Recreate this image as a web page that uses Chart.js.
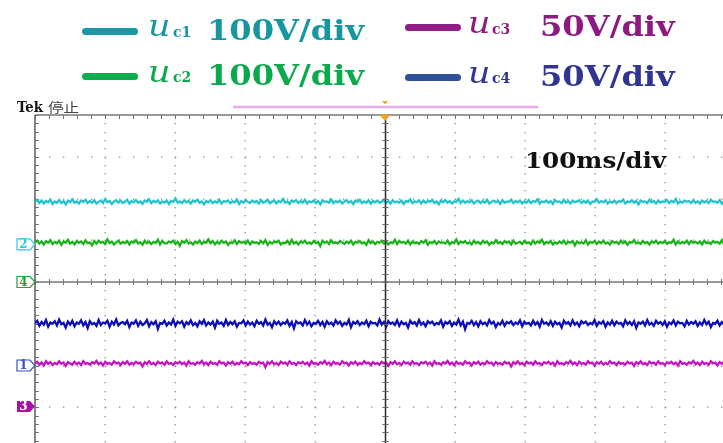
<!DOCTYPE html>
<html>
<head>
<meta charset="utf-8">
<script src="https://cdn.jsdelivr.net/npm/chart.js@4.4.1/dist/chart.umd.min.js"></script>
<style>
    body {
        margin: 0;
        width: 723px;
        height: 443px;
        overflow: hidden;
        background: #fff;
        position: relative;
    }
    #wrap {
        position: absolute;
        left: 0;
        top: 0;
        width: 745px;
        height: 460px;
    }
    .t {
        position: absolute;
        white-space: nowrap;
        line-height: 1;
        transform-origin: 0 0;
        font-family: "DejaVu Serif", "Liberation Serif", serif;
    }
    .swatch {
        position: absolute;
        height: 7px;
        width: 56px;
        border-radius: 4px;
    }
</style>
</head>
<body>
<div id="wrap"><canvas id="scope"></canvas></div>
<div id="labels"></div>
<script>
// legend text
var channelNames = ["c1", "c2", "c3", "c4"];
var channelScales = ["100V/div", "100V/div", "50V/div", "50V/div"];
var timeBase = "100ms/div";

// screen = 10 div x 100 ms, values in 1/100 division (centre line = 0)
var screenMs = 1000;

var uc1 = [192,196,189,195,188,194,191,197,187,193,190,196,189,194,186,195,191,198,190,193,
188,195,192,197,189,194,190,196,188,192,195,189,199,191,194,187,193,196,190,195,
189,192,197,188,194,191,196,190,193,187,195,192,198,189,194,191,196,188,193,190,
195,187,194,192,200,190,193,189,196,191,194,188,195,192,197,190,193,186,194,191,
196,189,193,190,197,188,194,192,195,189,193,191,198,187,194,190,196,192,189,195,
191,194,188,196,190,193,197,189,192,195,188,194,191,199,190,193,187,195,192,196,
189,194,190,197,188,193,191,195,189,194,186,196,192,193,190,198,189,194,191,195,
188,193,196,190,194,187,195,192,197,189,193,190,196,188,194,191,195,190,192,197,
189,194,188,196,191,193,190,195,187,194,192,198,189,193,191,196,188,195,190,194,
192,197,189,193,186,195,191,196,190,194,188,193,192,199,189,195,190,194,191,196,
188,193,195,189,194,190,197,188,192,195,191,194,187,196,190,193,192,197,189,194,
191,195,188,193,190,196,189,194,192,198,188,193,191,195,190,194,187,196,192,193,
189,197,190,194,188,195,191,193,196,189,194,190,195,187,193,192,198,190,194,191,
196,188,193,190,195,189,194,192,197,188,193,191,196,190,194,186,195,192,193,189,
197,191,194,188,195,190,193,192,196,189,194,191,199,188,193,190,195,192,194,189,
196,190,193,188,195,191,194,189,197,192,193,190,196,188,194,191,195,189,193,192];
var uc2 = [95,99,92,97,90,98,94,100,91,96,93,99,89,97,94,101,92,96,90,98,
94,97,91,100,93,95,88,98,92,99,94,96,91,102,93,97,90,95,99,92,
96,93,98,90,97,94,100,92,95,89,99,93,97,91,96,94,101,90,98,93,
92,97,95,99,91,96,87,98,94,100,92,95,90,97,93,99,91,96,94,102,
93,98,90,96,92,99,94,97,89,95,93,100,91,98,94,96,92,99,90,97,
94,95,91,98,93,100,89,96,92,97,95,99,90,94,93,98,91,101,92,96,
90,97,94,99,92,95,91,98,93,96,86,99,94,97,91,100,93,95,92,98,
95,91,97,93,99,90,96,94,98,92,95,89,100,93,97,91,96,94,99,92,
97,90,95,93,101,91,98,94,96,92,99,90,97,93,95,91,98,94,100,89,
96,93,98,91,97,94,95,92,99,90,96,93,102,91,97,94,98,92,95,90,
99,93,96,91,98,94,97,89,95,92,100,93,96,91,98,94,97,90,99,92,
94,96,91,98,93,95,90,99,92,97,94,101,91,96,93,98,90,95,92,97,
93,99,91,96,94,98,88,97,93,95,92,100,90,96,94,98,91,97,93,99,
92,95,90,98,94,96,91,99,93,97,89,96,94,100,92,95,91,98,93,96,
90,97,94,99,92,96,93,98,91,95,94,101,90,97,92,96,93,99,91,98,
94,96,92,97,90,99,93,95,91,98,94,96,92,100,90,97,93,95,94,98];
var uc3 = [-195,-191,-198,-193,-200,-190,-196,-192,-199,-194,-197,-190,-196,-193,-201,-192,-195,-198,-191,-197,
-193,-199,-190,-196,-194,-198,-192,-195,-189,-197,-193,-200,-191,-196,-194,-198,-190,-195,-193,-199,
-192,-196,-190,-198,-194,-197,-191,-195,-193,-202,-192,-196,-190,-197,-194,-199,-191,-195,-193,-198,
-190,-196,-194,-199,-192,-195,-191,-197,-193,-200,-190,-196,-194,-198,-192,-195,-189,-197,-193,-199,
-191,-196,-194,-198,-190,-195,-193,-200,-192,-196,-191,-198,-194,-197,-190,-195,-193,-199,-192,-196,
-194,-198,-191,-195,-193,-204,-192,-196,-190,-197,-194,-199,-191,-195,-193,-198,-190,-196,-194,-199,
-192,-195,-191,-197,-193,-200,-190,-196,-194,-198,-192,-195,-189,-197,-193,-199,-191,-196,-194,-198,
-190,-195,-193,-200,-192,-196,-191,-198,-194,-197,-190,-195,-193,-199,-192,-196,-194,-198,-191,-195,
-193,-201,-192,-196,-190,-197,-194,-199,-191,-195,-193,-198,-190,-196,-194,-199,-192,-195,-191,-197,
-193,-200,-190,-196,-194,-198,-192,-195,-189,-197,-193,-199,-191,-196,-194,-198,-190,-195,-193,-200,
-192,-196,-191,-198,-194,-197,-190,-195,-193,-199,-192,-196,-194,-198,-191,-195,-193,-202,-192,-196,
-190,-197,-194,-199,-191,-195,-193,-198,-190,-196,-194,-199,-192,-195,-191,-197,-193,-200,-190,-196,
-194,-198,-192,-195,-189,-197,-193,-199,-191,-196,-194,-198,-190,-195,-193,-200,-192,-196,-191,-198,
-194,-197,-190,-195,-193,-199,-192,-196,-194,-198,-191,-195,-193,-201,-192,-196,-190,-197,-194,-199,
-191,-195,-193,-198,-190,-196,-194,-199,-192,-195,-191,-197,-193,-200,-190,-196,-194,-198,-192,-195,
-189,-197,-193,-199,-191,-196,-194,-198,-190,-195,-193,-200,-192,-196,-191,-198,-194,-197,-190,-195];
var uc4 = [-99,-93,-105,-96,-102,-91,-107,-97,-100,-94,-104,-90,-101,-98,-109,-95,-102,-93,-106,-97,
-100,-92,-104,-96,-110,-94,-101,-98,-105,-91,-103,-97,-99,-93,-107,-95,-102,-90,-104,-98,
-96,-101,-93,-108,-97,-100,-92,-105,-95,-103,-99,-91,-106,-96,-101,-94,-112,-98,-100,-93,
-104,-97,-102,-90,-105,-95,-99,-94,-107,-96,-101,-92,-103,-98,-106,-94,-100,-91,-104,-97,
-102,-95,-109,-93,-100,-97,-105,-91,-103,-96,-101,-94,-107,-98,-99,-92,-104,-95,-102,-97,
-106,-93,-100,-96,-104,-90,-102,-98,-108,-94,-101,-95,-103,-97,-100,-92,-105,-96,-111,-94,
-99,-97,-104,-91,-102,-95,-106,-98,-100,-93,-103,-96,-107,-94,-101,-97,-104,-92,-100,-95,
-105,-98,-102,-91,-108,-96,-100,-94,-103,-97,-101,-93,-106,-95,-99,-98,-104,-90,-102,-96,
-107,-94,-100,-97,-103,-92,-105,-95,-101,-98,-109,-93,-100,-96,-104,-91,-102,-97,-106,-94,
-99,-95,-103,-98,-101,-92,-107,-96,-100,-94,-105,-97,-102,-90,-104,-95,-113,-98,-100,-93,
-103,-96,-106,-94,-101,-97,-104,-91,-100,-95,-108,-98,-102,-93,-105,-96,-99,-94,-103,-97,
-101,-92,-106,-95,-100,-98,-104,-93,-102,-96,-107,-91,-100,-97,-103,-94,-105,-95,-101,-98,
-109,-93,-100,-96,-104,-92,-102,-97,-106,-94,-99,-95,-103,-98,-101,-91,-105,-96,-100,-94,
-107,-97,-102,-93,-104,-95,-100,-98,-106,-92,-101,-96,-103,-94,-110,-97,-100,-95,-104,-91,
-102,-98,-105,-93,-100,-96,-103,-94,-107,-97,-101,-92,-104,-95,-99,-98,-106,-93,-102,-96,
-100,-94,-105,-97,-103,-91,-101,-95,-108,-98,-100,-93,-104,-96,-102,-94,-106,-97,-99,-95];

// scope channel ground markers
var markerLabels = ["2", "4", "1", "3"];
var markerLevels = [90, 0, -200, -298];

// record view bar (ms)
var viewStart = 283;
var viewEnd = 719;

var traceColors = ["#22c4cc", "#1ab41a", "#c414c4", "#0c0cb8"];
var legendColors = ["#16969f", "#0aa94b", "#8c1a80", "#2f3590"];
var swatchColors = ["#1f97a3", "#0aae4d", "#911c86", "#2f5096"];

function toPoints(vals) {
    return vals.map(function (v, i) {
        return { x: (i * screenMs) / (vals.length - 1), y: v };
    });
}

function drawMarker(ctx, left, py, label, stroke, filled) {
    ctx.beginPath();
    ctx.moveTo(left, py - 5.5);
    ctx.lineTo(left + 13, py - 5.5);
    ctx.lineTo(left + 18, py);
    ctx.lineTo(left + 13, py + 5.5);
    ctx.lineTo(left, py + 5.5);
    ctx.closePath();
    ctx.lineWidth = 1.2;
    if (filled) {
        ctx.fillStyle = stroke;
        ctx.fill();
    } else {
        ctx.fillStyle = "#fff";
        ctx.fill();
        ctx.strokeStyle = stroke;
        ctx.stroke();
    }
    ctx.fillStyle = filled ? "#fff" : stroke;
    ctx.font = "bold 12px 'DejaVu Serif', serif";
    ctx.textAlign = "center";
    ctx.textBaseline = "middle";
    ctx.fillText(label, left + 6.5, py + 0.5);
}

var scopeGrid = {
    id: "scopeGrid",
    beforeDatasetsDraw: function (chart) {
        var ctx = chart.ctx;
        var a = chart.chartArea;
        var x = chart.scales.x;
        var y = chart.scales.y;
        var t, v, px, py;
        ctx.save();

        // dotted division lines
        ctx.fillStyle = "#8a8a8a";
        for (t = x.min + 100; t < x.max; t += 100) {
            if (t === 500) continue;
            px = Math.round(x.getPixelForValue(t)) - 0.5;
            for (v = y.min; v <= y.max; v += 20) {
                ctx.fillRect(px, Math.round(y.getPixelForValue(v)), 1.3, 1.3);
            }
        }
        for (v = y.min + 100; v < y.max; v += 100) {
            if (v === 0) continue;
            py = Math.round(y.getPixelForValue(v)) - 0.5;
            for (t = x.min; t <= x.max; t += 20) {
                ctx.fillRect(Math.round(x.getPixelForValue(t)), py, 1.3, 1.3);
            }
        }

        // top border and horizontal centre line
        ctx.strokeStyle = "#7a7a7a";
        ctx.lineWidth = 1.4;
        ctx.beginPath();
        ctx.moveTo(a.left, a.top);
        ctx.lineTo(a.right, a.top);
        py = y.getPixelForValue(0);
        ctx.moveTo(a.left, py);
        ctx.lineTo(a.right, py);
        ctx.stroke();

        ctx.lineWidth = 1;
        ctx.strokeStyle = "#777";
        ctx.beginPath();
        for (t = x.min; t <= x.max; t += 20) {
            px = Math.round(x.getPixelForValue(t)) + 0.5;
            ctx.moveTo(px, a.top);
            ctx.lineTo(px, a.top + 4);
            ctx.moveTo(px, py - 3);
            ctx.lineTo(px, py + 3);
        }
        for (v = y.min; v <= y.max; v += 20) {
            var vy = Math.round(y.getPixelForValue(v)) + 0.5;
            ctx.moveTo(a.left, vy);
            ctx.lineTo(a.left + 4, vy);
        }
        ctx.stroke();

        // left border
        ctx.strokeStyle = "#666";
        ctx.lineWidth = 1.6;
        ctx.beginPath();
        ctx.moveTo(a.left, a.top);
        ctx.lineTo(a.left, a.bottom);
        ctx.stroke();
        ctx.restore();
    },
    afterDatasetsDraw: function (chart) {
        var ctx = chart.ctx;
        var a = chart.chartArea;
        var x = chart.scales.x;
        var y = chart.scales.y;
        var cx = Math.round(x.getPixelForValue(500)) + 0.5;
        ctx.save();
        ctx.strokeStyle = "#2a2a2a";
        ctx.lineWidth = 1.5;
        ctx.beginPath();
        ctx.moveTo(cx, a.top);
        ctx.lineTo(cx, a.bottom);
        ctx.stroke();
        ctx.lineWidth = 1;
        ctx.strokeStyle = "#666";
        ctx.beginPath();
        for (var v = y.min; v <= y.max; v += 20) {
            var vy = Math.round(y.getPixelForValue(v)) + 0.5;
            ctx.moveTo(cx - 3, vy);
            ctx.lineTo(cx + 3, vy);
        }
        ctx.stroke();
        ctx.restore();
    },
    afterDraw: function (chart) {
        var ctx = chart.ctx;
        var a = chart.chartArea;
        var x = chart.scales.x;
        var y = chart.scales.y;
        var cx = x.getPixelForValue(500);
        ctx.save();

        // record view bar
        ctx.strokeStyle = "#e6aae6";
        ctx.lineWidth = 2.5;
        ctx.beginPath();
        ctx.moveTo(x.getPixelForValue(viewStart), a.top - 8);
        ctx.lineTo(x.getPixelForValue(viewEnd), a.top - 8);
        ctx.stroke();

        // trigger position
        ctx.fillStyle = "#f7a11a";
        ctx.beginPath();
        ctx.moveTo(cx - 3, a.top - 14);
        ctx.lineTo(cx + 3, a.top - 14);
        ctx.lineTo(cx, a.top - 10.5);
        ctx.closePath();
        ctx.fill();
        ctx.beginPath();
        ctx.moveTo(cx - 5.5, a.top);
        ctx.lineTo(cx + 5.5, a.top);
        ctx.lineTo(cx, a.top + 6);
        ctx.closePath();
        ctx.fill();

        // ground markers
        var markerColors = ["#33c6e4", "#22a33a", "#3552c4", "#a512a5"];
        for (var i = 0; i < markerLabels.length; i++) {
            drawMarker(ctx, a.left - 18, y.getPixelForValue(markerLevels[i]),
                markerLabels[i], markerColors[i], i === 3);
        }
        ctx.restore();
    }
};

var traces = [uc1, uc2, uc3, uc4];
var datasets = [];
for (var i = 0; i < traces.length; i++) {
    datasets.push({
        label: "u" + channelNames[i],
        data: toPoints(traces[i]),
        borderColor: traceColors[i],
        borderWidth: 2.3,
        pointRadius: 0,
        tension: 0,
    });
}

new Chart(document.getElementById("scope"), {
    type: "line",
    data: { datasets: datasets },
    options: {
        responsive: true,
        maintainAspectRatio: false,
        animation: false,
        layout: {
            padding: { left: 35, top: 115, right: 10, bottom: 11 },
        },
        plugins: {
            legend: { display: false },
            tooltip: { enabled: false },
        },
        scales: {
            x: { type: "linear", min: 0, max: screenMs, display: false },
            y: { min: -400, max: 400, display: false },
        },
    },
    plugins: [scopeGrid],
});

// legend (html text), positions per item: swatch, u, subscript, scale text
var legendSpots = [
    { sw: [82, 27.5], u: [148, 12], sub: [173, 25.2], val: [207, 17] },
    { sw: [82, 72.5], u: [148, 57.5], sub: [173, 70.2], val: [207, 62] },
    { sw: [405, 23.5], u: [468, 8.5], sub: [492, 22.2], val: [540, 13] },
    { sw: [405, 73.5], u: [468, 58.5], sub: [492, 71.2], val: [540, 63] },
];

var labels = document.getElementById("labels");
var html = "";
for (var i = 0; i < channelNames.length; i++) {
    var s = legendSpots[i];
    var c = legendColors[i];
    html += `<div class="swatch" style="left:${s.sw[0]}px;top:${s.sw[1]}px;background:${swatchColors[i]}"></div>`;
    html += `<div class="t" style="left:${s.u[0]}px;top:${s.u[1]}px;font-size:29px;font-style:italic;color:${c};transform:scaleX(1.2)">u</div>`;
    html += `<div class="t" style="left:${s.sub[0]}px;top:${s.sub[1]}px;font-size:14px;font-weight:bold;color:${c}">${channelNames[i]}</div>`;
    html += `<div class="t" style="left:${s.val[0]}px;top:${s.val[1]}px;font-size:27px;font-weight:bold;color:${c};transform:scaleX(1.19)">${channelScales[i]}</div>`;
}
html += `<div class="t" style="left:525px;top:147.5px;font-size:23px;font-weight:bold;color:#111;transform:scaleX(1.07)">${timeBase}</div>`;
html += `<div class="t" style="left:17px;top:100.3px;font-size:15px;font-weight:bold;color:#111;transform:scaleX(0.88)">Tek</div>`;
html += `<div class="t" style="left:48px;top:99.5px;font-size:13px;font-family:'Noto Sans CJK SC',sans-serif;color:#444;transform:scaleX(1.2)">停止</div>`;
labels.innerHTML = html;
</script>
</body>
</html>
